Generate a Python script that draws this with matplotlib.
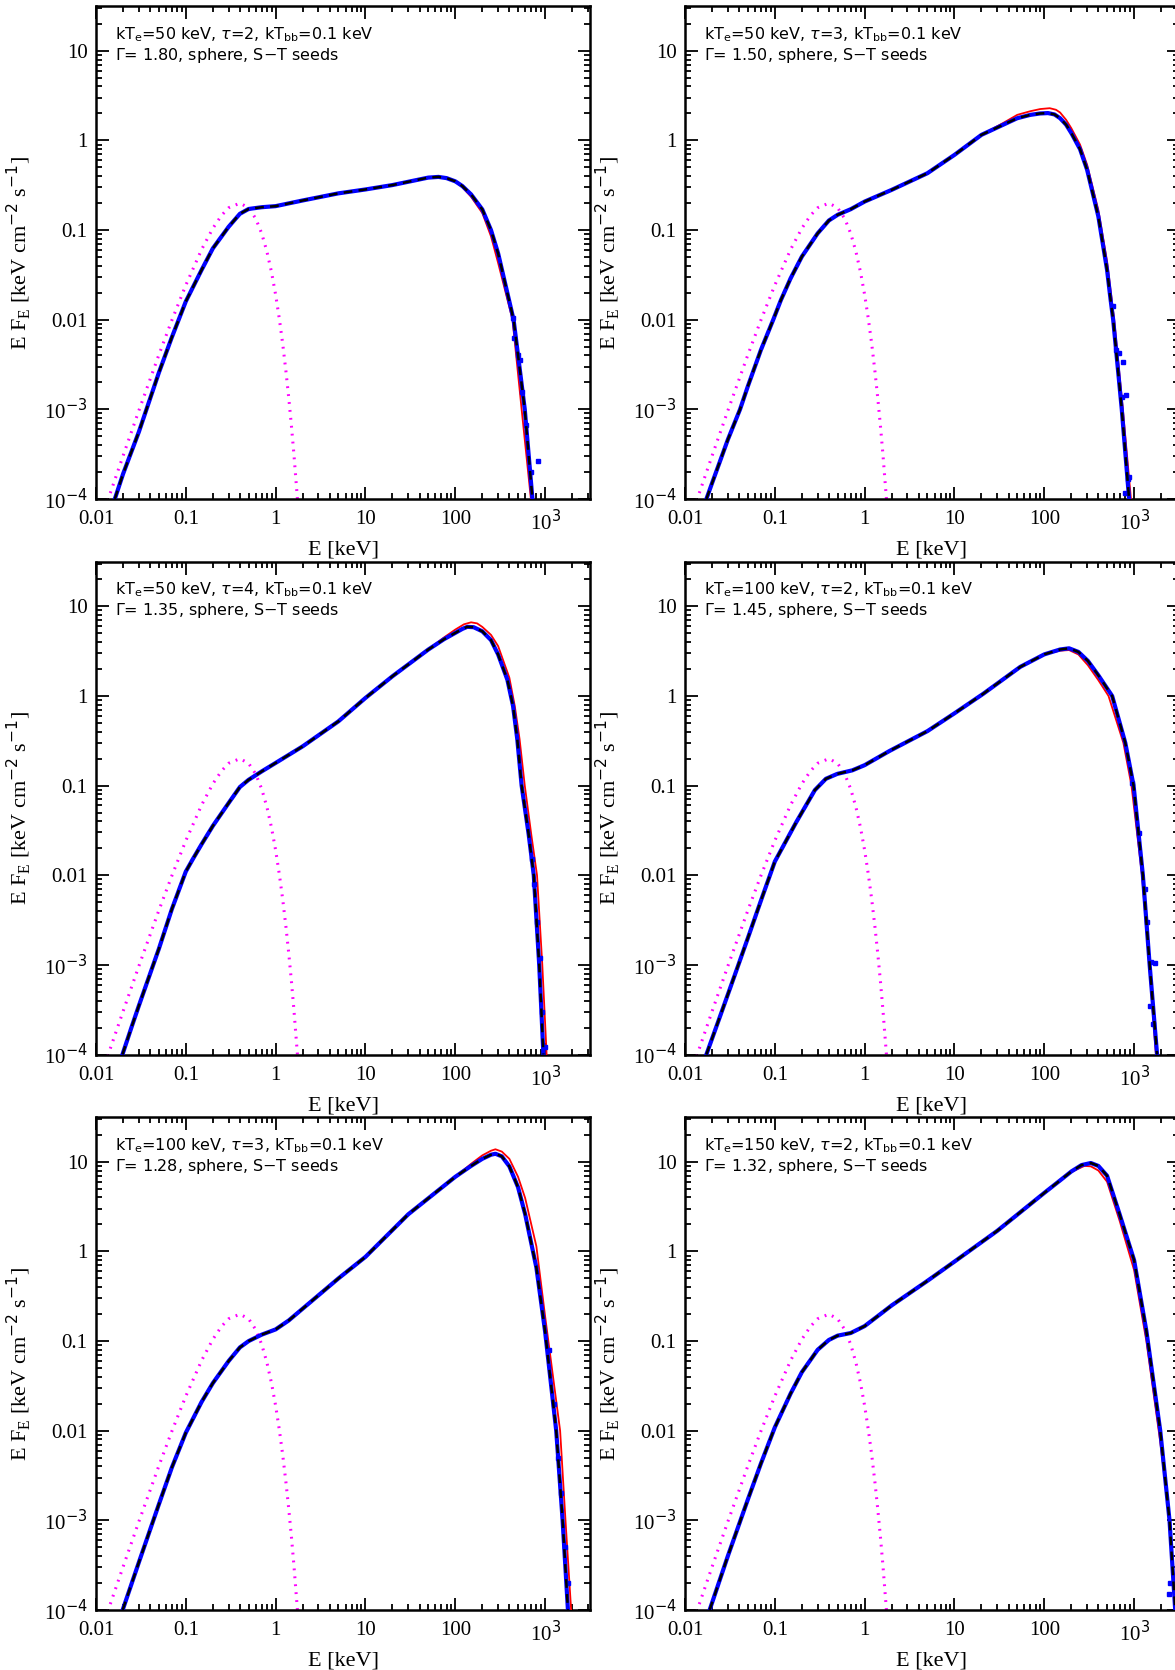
import matplotlib
matplotlib.use('Agg')
import matplotlib.pyplot as plt
from matplotlib.ticker import LogLocator, NullFormatter

plt.rcParams['mathtext.fontset'] = 'dejavusans'

# seed blackbody, kT_bb = 0.1 keV (same in every panel)
bb_e = [0.0135, 0.02, 0.03, 0.05, 0.07, 0.1, 0.15, 0.2, 0.25, 0.3, 0.4, 0.5, 0.6, 0.7,
        0.8, 0.9, 1.0, 1.1, 1.2, 1.3, 1.4, 1.5, 1.6, 1.75]
bb_f = [9.6e-5, 3.02e-4, 9.68e-4, 4.03e-3, 9.9e-3, 0.0243, 0.0608, 0.1047, 0.146, 0.1774,
        0.1997, 0.1772, 0.1346, 0.0916, 0.0575, 0.0339, 0.019, 0.0102, 5.33e-3, 2.7e-3,
        1.34e-3, 6.5e-4, 3.1e-4, 9.9e-5]

# panel 1: kTe=50, tau=2  (common part, then black/red cut-offs, then MC outliers)
e1 = [0.0162, 0.02, 0.03, 0.05, 0.07, 0.1, 0.15, 0.2, 0.3, 0.4, 0.5, 0.7, 1, 2, 5, 10, 20, 50, 65, 80, 100]
f1 = [1e-4, 1.9e-4, 5.6e-4, 2.55e-3, 6.4e-3, 0.016, 0.036, 0.0625, 0.109, 0.152, 0.172, 0.18, 0.185,
      0.214, 0.257, 0.284, 0.318, 0.385, 0.392, 0.38, 0.35]
e1_black = [120, 150, 200, 250, 300, 446, 594, 723]
f1_black = [0.31, 0.25, 0.17, 0.1, 0.055, 0.01, 1e-3, 1e-4]
e1_red = [120, 150, 200, 250, 300, 434, 548, 695]
f1_red = [0.30, 0.235, 0.155, 0.085, 0.043, 0.01, 1e-3, 1e-4]
e1_mc = [434, 455, 497, 523, 548, 618, 702, 838]
f1_mc = [0.0105, 6.2e-3, 4.05e-3, 3.56e-3, 1.58e-3, 6.7e-4, 2.0e-4, 2.65e-4]

# panel 2: kTe=50, tau=3
e2 = [0.0173, 0.02, 0.03, 0.041, 0.05, 0.07, 0.096, 0.117, 0.15, 0.2, 0.3, 0.4, 0.5, 0.7, 1, 2, 5, 10, 20]
f2 = [1e-4, 1.5e-4, 4.6e-4, 1e-3, 1.8e-3, 4.6e-3, 0.01, 0.0166, 0.029, 0.0506, 0.092, 0.128, 0.148,
      0.171, 0.208, 0.281, 0.431, 0.69, 1.155]
e2_black = [35, 50, 70, 90, 110, 130, 150, 175, 200, 250, 300, 400, 500, 548, 585, 729, 880]
f2_black = [1.5, 1.77, 1.93, 2.0, 2.02, 1.95, 1.77, 1.5, 1.21, 0.8, 0.47, 0.142, 0.036, 0.0166, 0.01, 1e-3, 1e-4]
e2_red = [35, 50, 70, 90, 115, 135, 150, 175, 200, 250, 300, 400, 500, 600, 750, 923]
f2_red = [1.57, 1.93, 2.12, 2.24, 2.29, 2.2, 2.05, 1.7, 1.37, 0.9, 0.535, 0.167, 0.045, 0.01, 1e-3, 1e-4]
e2_mc = [577, 621, 676, 743, 725, 817, 855, 880, 787]
f2_mc = [0.0143, 4.6e-3, 4.2e-3, 3.4e-3, 1.39e-3, 1.45e-3, 1.67e-4, 1.75e-4, 1.16e-4]

# panel 3: kTe=50, tau=4
e3 = [0.0197, 0.025, 0.03, 0.05, 0.07, 0.1, 0.12, 0.15, 0.2, 0.3, 0.4, 0.5, 0.7, 1, 2, 5, 10, 20, 50]
f3 = [1e-4, 2.05e-4, 3.5e-4, 1.5e-3, 4.2e-3, 0.011, 0.0152, 0.0222, 0.0355, 0.064, 0.0964, 0.116, 0.144,
      0.179, 0.274, 0.521, 0.95, 1.66, 3.29]
e3_black = [75, 100, 120, 136, 160, 200, 250, 300, 380, 440, 490, 548, 655, 748, 860, 958]
f3_black = [4.3, 5.05, 5.6, 5.9, 5.85, 5.26, 4.2, 2.9, 1.52, 0.77, 0.33, 0.1, 0.029, 0.01, 1e-3, 1e-4]
e3_red = [75, 100, 125, 150, 175, 200, 250, 300, 400, 460, 520, 594, 700, 813, 931, 1040]
f3_red = [4.5, 5.5, 6.3, 6.63, 6.45, 5.89, 4.8, 3.6, 1.6, 0.77, 0.33, 0.1, 0.029, 0.01, 1e-3, 1e-4]
e3_mc = [720, 760, 820, 870, 935, 990]
f3_mc = [0.015, 8e-3, 3e-3, 1.2e-3, 3e-4, 1.2e-4]

# panel 4: kTe=100, tau=2
e4 = [0.0173, 0.025, 0.0355, 0.05, 0.07, 0.1, 0.173, 0.279, 0.37, 0.495, 0.73, 1, 1.9, 5, 10, 21, 54, 100]
f4 = [1e-4, 2.8e-4, 7.5e-4, 1.98e-3, 5.2e-3, 0.0142, 0.039, 0.089, 0.119, 0.135, 0.148, 0.169,
      0.244, 0.405, 0.64, 1.06, 2.11, 2.91]
e4_black = [150, 189, 240, 306, 400, 570, 798, 987, 1253, 1490, 1803]
f4_black = [3.3, 3.4, 3.1, 2.46, 1.7, 1.0, 0.3, 0.1, 0.01, 1e-3, 1e-4]
e4_red = [150, 189, 240, 306, 400, 519, 760, 935, 1225, 1475, 1750]
f4_red = [3.2, 3.25, 2.9, 2.2, 1.5, 1.0, 0.3, 0.1, 0.01, 1e-3, 1e-4]
e4_mc = [948, 1127, 1314, 1393, 1533, 1718, 1516, 1637]
f4_mc = [0.107, 0.0296, 7.1e-3, 2.99e-3, 1.09e-3, 1.04e-3, 3.45e-4, 2.18e-4]

# panel 5: kTe=100, tau=3
e5 = [0.0198, 0.03, 0.05, 0.07, 0.1, 0.15, 0.2, 0.3, 0.4, 0.5, 0.7, 1, 1.4, 2, 5, 10, 30, 100]
f5 = [1e-4, 3.4e-4, 1.5e-3, 3.9e-3, 9.5e-3, 0.021, 0.034, 0.06, 0.085, 0.1, 0.118, 0.135, 0.17, 0.23,
      0.5, 0.87, 2.6, 6.8]
e5_black = [150, 200, 250, 280, 330, 400, 500, 600, 800, 1000, 1330, 1567, 1796]
f5_black = [9.0, 10.8, 12.0, 12.3, 11.5, 8.9, 5.2, 2.6, 0.66, 0.128, 0.01, 1e-3, 1e-4]
e5_red = [150, 200, 250, 280, 330, 400, 500, 600, 800, 1000, 1470, 1687, 1950]
f5_red = [9.5, 11.8, 13.3, 13.8, 13.0, 10.8, 6.8, 3.94, 1.14, 0.19, 0.01, 1e-3, 1e-4]
e5_mc = [1100, 1250, 1400, 1500, 1650, 1800]
f5_mc = [0.08, 0.02, 5e-3, 2e-3, 5e-4, 2e-4]

# panel 6: kTe=150, tau=2
e6 = [0.0188, 0.03, 0.05, 0.07, 0.1, 0.15, 0.2, 0.3, 0.4, 0.5, 0.7, 1, 1.4, 2, 5, 10, 30, 100]
f6 = [1e-4, 4.0e-4, 1.7e-3, 4.3e-3, 0.0109, 0.026, 0.045, 0.08, 0.103, 0.115, 0.123, 0.147, 0.19, 0.25,
      0.47, 0.77, 1.7, 4.5]
e6_black = [150, 200, 260, 330, 400, 500, 690, 1000, 1370, 1955, 2480, 2870]
f6_black = [6.2, 7.8, 9.2, 9.7, 9.0, 7.0, 2.6, 0.8, 0.13, 0.01, 1e-3, 1e-4]
e6_red = [150, 200, 280, 330, 400, 500, 690, 1000, 1370, 1955, 2500, 2870]
f6_red = [6.2, 7.7, 9.0, 8.9, 8.0, 6.0, 2.2, 0.62, 0.1, 7.5e-3, 1e-3, 1e-4]
e6_mc = [2433, 2541]
f6_mc = [1.5e-4, 2e-4]

line1 = [r'kT$_\mathregular{e}$=50 keV, $\tau$=2, kT$_\mathregular{bb}$=0.1 keV',
         r'kT$_\mathregular{e}$=50 keV, $\tau$=3, kT$_\mathregular{bb}$=0.1 keV',
         r'kT$_\mathregular{e}$=50 keV, $\tau$=4, kT$_\mathregular{bb}$=0.1 keV',
         r'kT$_\mathregular{e}$=100 keV, $\tau$=2, kT$_\mathregular{bb}$=0.1 keV',
         r'kT$_\mathregular{e}$=100 keV, $\tau$=3, kT$_\mathregular{bb}$=0.1 keV',
         r'kT$_\mathregular{e}$=150 keV, $\tau$=2, kT$_\mathregular{bb}$=0.1 keV']
gammas = ['1.80', '1.50', '1.35', '1.45', '1.28', '1.32']

panels = [
    (e1, f1, e1_black, f1_black, e1_red, f1_red, e1_mc, f1_mc),
    (e2, f2, e2_black, f2_black, e2_red, f2_red, e2_mc, f2_mc),
    (e3, f3, e3_black, f3_black, e3_red, f3_red, e3_mc, f3_mc),
    (e4, f4, e4_black, f4_black, e4_red, f4_red, e4_mc, f4_mc),
    (e5, f5, e5_black, f5_black, e5_red, f5_red, e5_mc, f5_mc),
    (e6, f6, e6_black, f6_black, e6_red, f6_red, e6_mc, f6_mc),
]

xticks = [0.01, 0.1, 1, 10, 100, 1000]
xlabels = ['0.01', '0.1', '1', '10', '100', r'10$^{3}$']
yticks = [1e-4, 1e-3, 0.01, 0.1, 1, 10]
ylabels = [r'10$^{-4}$', r'10$^{-3}$', '0.01', '0.1', '1', '10']

fig = plt.figure(figsize=(11.75, 16.7), dpi=100)
lefts = [96 / 1175, 685 / 1175]
bottoms = [1 - 499 / 1670, 1 - 1054.5 / 1670, 1 - 1610 / 1670]
w = 494 / 1175
h = 493 / 1670

serif = 'Liberation Serif'

for i, (e, f, eb, fb, er, fr, em, fm) in enumerate(panels):
    ax = fig.add_axes([lefts[i % 2], bottoms[i // 2], w, h])
    ax.set_xscale('log')
    ax.set_yscale('log')

    ax.plot(bb_e, bb_f, color='#ff00ff', lw=2.2, linestyle=(0, (0.6, 2.0)),
            dash_capstyle='butt', zorder=2)
    ax.plot(e + er, f + fr, color='red', lw=1.3, zorder=3)
    ax.plot(e + eb, f + fb, color='blue', lw=3.0, zorder=4)
    ax.plot(em, fm, ls='none', marker='s', ms=2.6, color='blue', zorder=4)
    ax.plot(e + eb, f + fb, color='black', lw=1.8, linestyle=(0, (3.5, 2.5)), zorder=5)

    ax.set_xlim(0.01, 10 ** 3.5)
    ax.set_ylim(1e-4, 10 ** 1.5)

    ax.set_xticks(xticks, xlabels)
    ax.set_yticks(yticks, ylabels)
    ax.xaxis.set_minor_locator(LogLocator(base=10, subs=range(2, 10), numticks=20))
    ax.yaxis.set_minor_locator(LogLocator(base=10, subs=range(2, 10), numticks=20))
    ax.xaxis.set_minor_formatter(NullFormatter())
    ax.yaxis.set_minor_formatter(NullFormatter())
    ax.tick_params(which='both', direction='in', top=True, right=True, width=1.3)
    ax.tick_params(which='major', length=9, labelsize=15)
    ax.tick_params(which='minor', length=4.5)
    ax.tick_params(axis='x', which='major', pad=8)
    ax.tick_params(axis='y', which='major', pad=6)
    for lab in ax.get_xticklabels() + ax.get_yticklabels():
        lab.set_fontfamily(serif)
    for sp in ax.spines.values():
        sp.set_linewidth(1.8)

    ax.set_xlabel('E [keV]', fontsize=16, family=serif, labelpad=4)
    ax.set_ylabel(r'E F$_\mathregular{E}$ [keV cm$^{-2}$ s$^{-1}$]', fontsize=16, family=serif, labelpad=8)

    ax.text(0.039, 0.933, line1[i], transform=ax.transAxes, fontsize=11.5)
    ax.text(0.039, 0.891, r'$\Gamma$= ' + gammas[i] + ', sphere, S$-$T seeds',
            transform=ax.transAxes, fontsize=11.5)

fig.savefig('out.png', dpi=100)
